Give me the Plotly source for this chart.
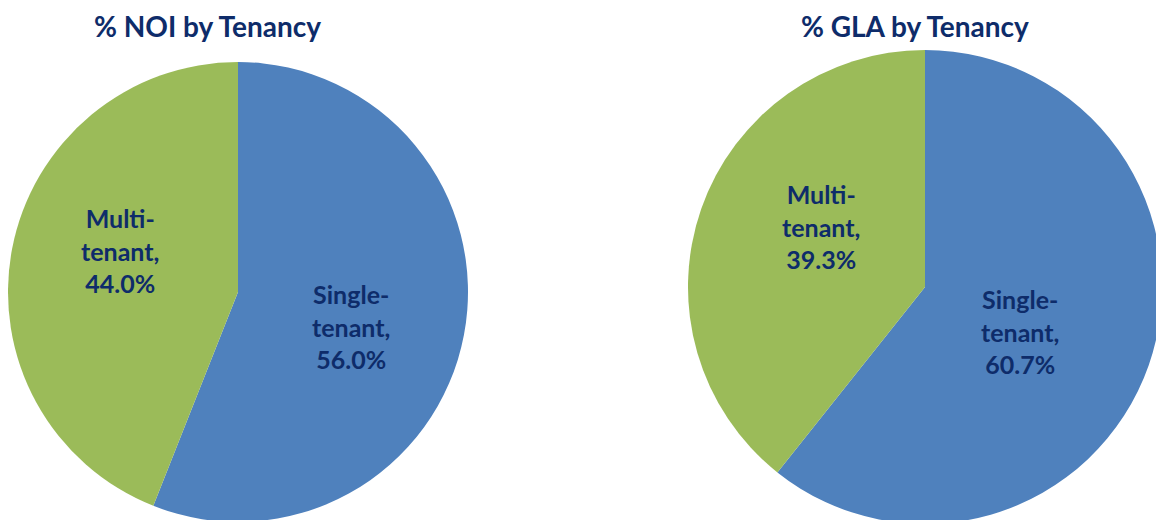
import plotly.graph_objects as go

categories = ["Single-tenant", "Multi-tenant"]
noi_values = [56.0, 44.0]
gla_values = [60.7, 39.3]
chart_titles = ["% NOI by Tenancy", "% GLA by Tenancy"]
colors = ["#4F81BD", "#9BBB59"]

W, H = 1164, 520
navy = "#0E2C6A"

def label_text(cat, v):
    a, b = cat.split("-")
    return f"<b>{a}-<br>{b},<br>{v:.1f}%</b>"

def dom(cx, cy, r):
    return dict(x=[(cx - r) / W, (cx + r) / W], y=[(H - (cy + r)) / H, (H - (cy - r)) / H])

fig = go.Figure()

pies = [(noi_values, dom(230, 284, 230)), (gla_values, dom(917, 279, 237))]
for vals, d in pies:
    fig.add_trace(go.Pie(
        values=vals, labels=categories,
        textinfo="none", sort=False, direction="clockwise", rotation=0,
        marker=dict(colors=colors, line=dict(width=0)),
        domain=d, showlegend=False, hoverinfo="label+percent",
    ))

# data-label placement (pixel centres, top-left origin) for [Single, Multi] of each pie
label_pos = [[(343, 318), (112, 242)], [(1012, 323), (813, 218)]]
for vals, positions in zip([noi_values, gla_values], label_pos):
    for cat, v, (px, py) in zip(categories, vals, positions):
        fig.add_annotation(text=label_text(cat, v), x=px / W, y=1 - py / H,
                           xref="paper", yref="paper", xanchor="center", yanchor="middle",
                           showarrow=False, align="center",
                           font=dict(family="Lato", size=25, color=navy))

for t, cx in zip(chart_titles, [199, 907]):
    fig.add_annotation(text=f"<b>{t}</b>", x=cx / W, y=1, xref="paper", yref="paper",
                       xanchor="center", yanchor="top", showarrow=False, borderpad=0,
                       font=dict(family="Lato", size=28, color=navy))

fig.update_layout(width=W, height=H, margin=dict(l=0, r=0, t=0, b=0),
                  paper_bgcolor="white", plot_bgcolor="white")
fig.write_html("out.html")
